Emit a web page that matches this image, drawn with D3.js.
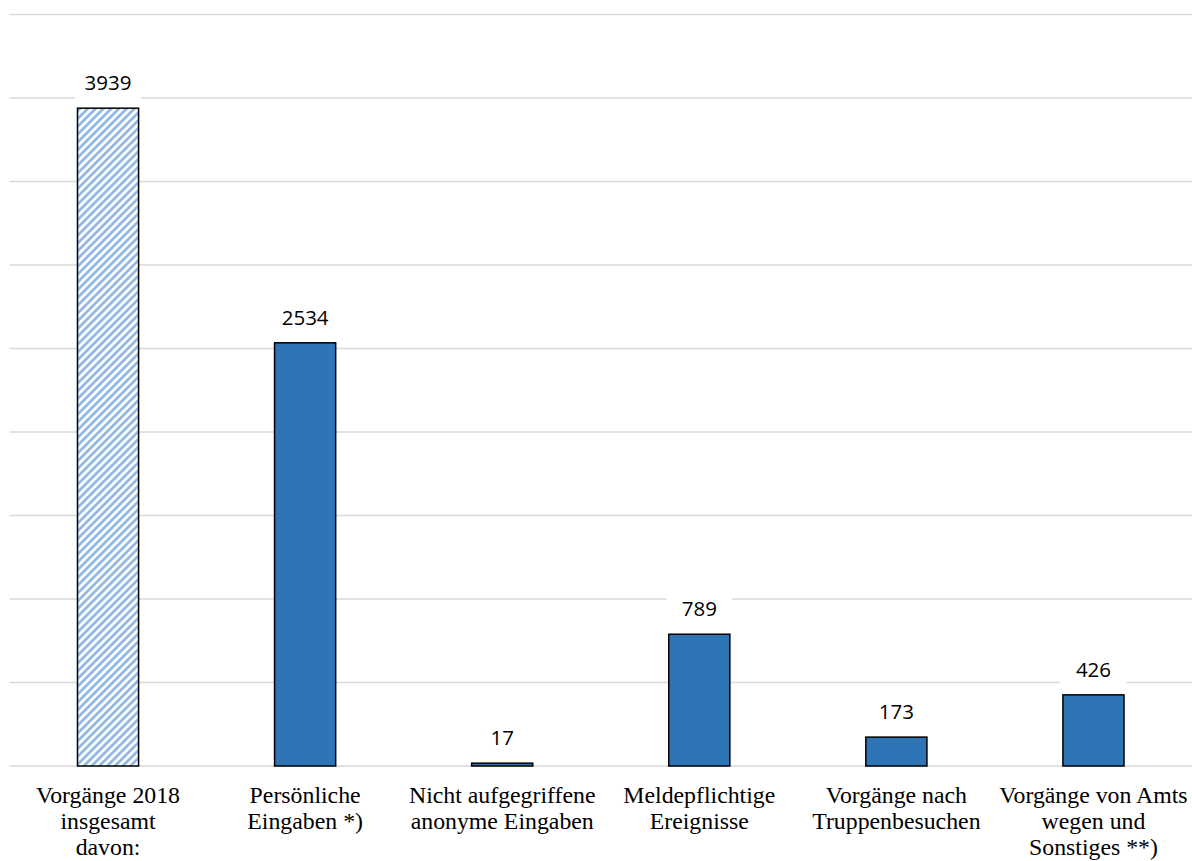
<!DOCTYPE html>
<html><head><meta charset="utf-8">
<script src="https://cdn.jsdelivr.net/npm/d3@7"></script>
<style>body{margin:0;background:#fff;} svg{display:block;}</style>
</head><body>
<svg id="c" width="1192" height="861"></svg>
<script>
const categories = [
  ["Vorgänge 2018","insgesamt","davon:"],
  ["Persönliche","Eingaben *)"],
  ["Nicht aufgegriffene","anonyme Eingaben"],
  ["Meldepflichtige","Ereignisse"],
  ["Vorgänge nach","Truppenbesuchen"],
  ["Vorgänge von Amts","wegen und","Sonstiges **)"]
];
const values = [3939, 2534, 17, 789, 173, 426];
const hatched = [true, false, false, false, false, false];
const yTicks = [0,500,1000,1500,2000,2500,3000,3500,4000,4500];

(function(){
const svg = d3.select("#c");
const pL = 9.5, pR = 1192, pT = 14.5, pB = 766;
const x = d3.scaleBand().domain(d3.range(values.length)).range([pL, pR]).paddingInner(0.69).paddingOuter(0.345);
const y = d3.scaleLinear().domain([0,4500]).range([pB, pT]);

const defs = svg.append("defs");
const pat = defs.append("pattern").attr("id","hatch").attr("patternUnits","userSpaceOnUse")
  .attr("width",5.5).attr("height",5.5).attr("patternTransform","rotate(45)");
pat.append("rect").attr("width",5.5).attr("height",5.5).attr("fill","#fff");
pat.append("rect").attr("width",2.8).attr("height",5.5).attr("fill","#92b9e4");

svg.append("g").selectAll("line").data(yTicks).join("line")
  .attr("x1", pL).attr("x2", pR)
  .attr("y1", d=>y(d)).attr("y2", d=>y(d))
  .attr("stroke","#d9d9d9").attr("stroke-width",1.5);

svg.append("g").selectAll("rect").data(values).join("rect")
  .attr("x",(d,i)=>x(i)).attr("width",x.bandwidth())
  .attr("y",d=>y(d)).attr("height",d=>pB-y(d))
  .attr("fill",(d,i)=>hatched[i]?"url(#hatch)":"#2e75b6")
  .attr("stroke","#000").attr("stroke-width",1.5);

const lab = svg.append("g").selectAll("g").data(values).join("g")
  .attr("transform",(d,i)=>`translate(${x(i)+x.bandwidth()/2},${y(d)-18})`);
lab.append("rect").attr("x",-33).attr("y",-21).attr("width",66).attr("height",30).attr("fill","#fff");
lab.append("text").attr("text-anchor","middle").attr("font-family","'Open Sans', 'Noto Sans', sans-serif")
  .attr("font-size",20.5).attr("fill","#000").text(d=>d);

const cl = svg.append("g").selectAll("text").data(categories).join("text")
  .attr("text-anchor","middle").attr("font-family","'Liberation Serif','Times New Roman',serif")
  .attr("font-size",23.8).attr("fill","#000")
  .attr("transform",(d,i)=>`translate(${x(i)+x.bandwidth()/2},803)`);
cl.selectAll("tspan").data(d=>d).join("tspan").attr("x",0).attr("dy",(d,j)=>j?26:0).text(d=>d);
})();
</script>
</body></html>
